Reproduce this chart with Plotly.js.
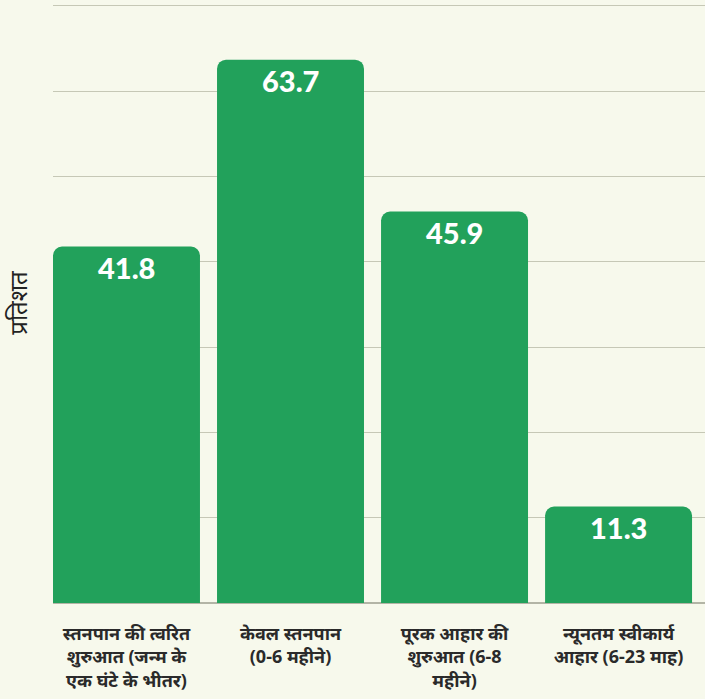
<!DOCTYPE html>
<html>
<head>
<meta charset="utf-8">
<script src="https://cdn.plot.ly/plotly-3.0.1.min.js"></script>
<style>
html,body{margin:0;padding:0;background:#f7f9ec;}
#chart{width:705px;height:699px;}
</style>
</head>
<body>
<div id="chart"></div>
<script>
var categories = [
  "स्तनपान की त्वरित<br>शुरुआत (जन्म के<br>एक घंटे के भीतर)",
  "केवल स्तनपान<br>(0-6 महीने)",
  "पूरक आहार की<br>शुरुआत (6-8<br>महीने)",
  "न्यूनतम स्वीकार्य<br>आहार (6-23 माह)"
];
var values = [41.8, 63.7, 45.9, 11.3];
var valueLabels = ["41.8", "63.7", "45.9", "11.3"];
var yTitle = "प्रतिशत";

var trace = {
  type: "bar",
  x: categories,
  y: values,
  marker: {color: "#22a15b", line: {width: 0}},
  width: 0.896,
  hoverinfo: "none"
};

var annotations = categories.map(function (c, i) {
  return {
    x: c, y: values[i], xref: "x", yref: "y",
    text: valueLabels[i], showarrow: false,
    yanchor: "top", yshift: -1,
    font: {family: "Lato, 'Open Sans', sans-serif", size: 29, color: "#ffffff", weight: 900}
  };
});

var layout = {
  width: 705,
  height: 699,
  margin: {l: 53, r: 0, t: 3, b: 96, pad: 0},
  paper_bgcolor: "#f7f9ec",
  plot_bgcolor: "#f7f9ec",
  barcornerradius: 9,
  showlegend: false,
  annotations: annotations,
  xaxis: {
    type: "category",
    range: [-0.448, 3.527],
    showgrid: false,
    zeroline: false,
    showline: false,
    ticks: "",
    ticklabelstandoff: 18,
    tickfont: {family: "'Noto Sans', 'Noto Sans Devanagari', sans-serif", size: 18, color: "#2a2a2a", weight: 700},
    fixedrange: true
  },
  yaxis: {
    range: [0, 70.35],
    dtick: 10,
    tick0: 0,
    showgrid: true,
    gridcolor: "#c6c8b6",
    gridwidth: 1,
    zeroline: true,
    zerolinecolor: "#b3b5a6",
    zerolinewidth: 1.5,
    showticklabels: false,
    ticks: "",
    title: {text: yTitle, font: {family: "'Noto Sans', 'Noto Sans Devanagari', sans-serif", size: 24, color: "#222222"}, standoff: 17},
    fixedrange: true
  }
};

Plotly.newPlot("chart", [trace], layout, {displayModeBar: false, staticPlot: true});
</script>
</body>
</html>
